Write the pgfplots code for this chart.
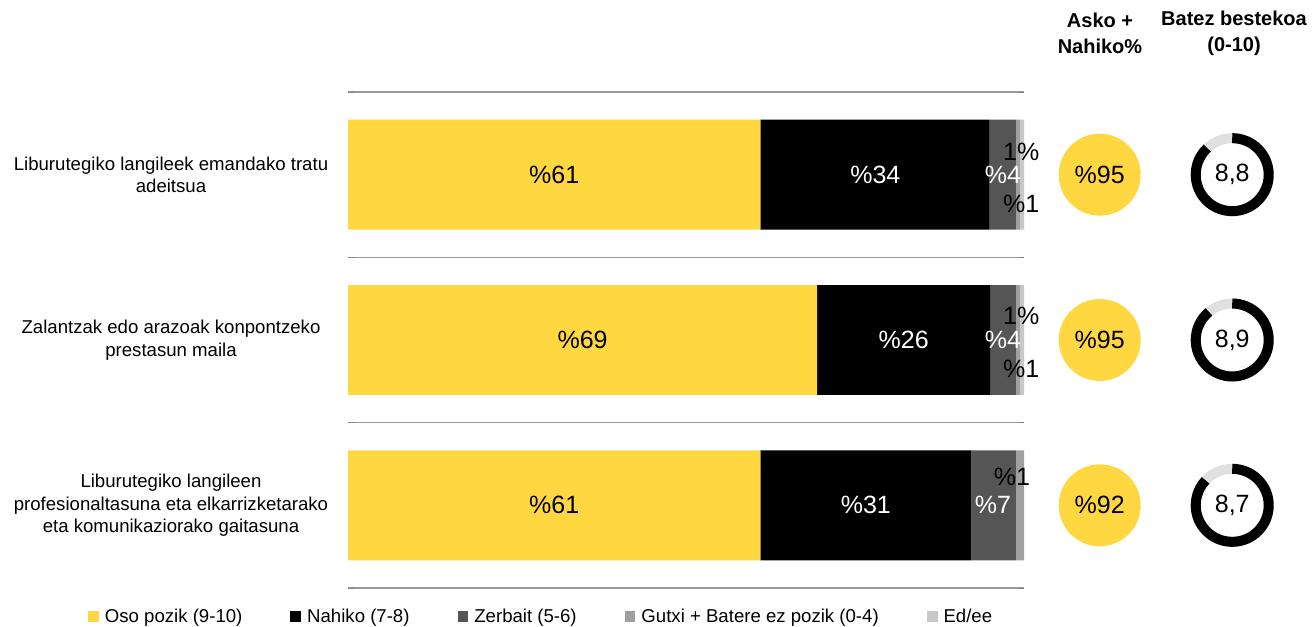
\documentclass[border=0pt]{standalone}
\usepackage{pgfplots}
\usepackage{pgfplotstable}
\pgfplotsset{compat=1.18}
\usepackage{fontspec}
\setmainfont{Liberation Sans}
\definecolor{cyel}{HTML}{FFD740}
\definecolor{cblk}{HTML}{000000}
\definecolor{cdg}{HTML}{555555}
\definecolor{cg}{HTML}{A0A0A0}
\definecolor{clg}{HTML}{C8C8C8}
\definecolor{cring}{HTML}{E0E0E0}
\definecolor{csep}{HTML}{9A9A9A}
\pgfplotstableread{
cat oso nahiko zerbait gutxi ed
0 61.0 31.2 6.6 1.2 0.0
1 69.4 25.6 3.8 0.6 0.6
2 61.0 33.9 3.9 0.6 0.6
}\data
\tikzset{bl/.style={font=\fontsize{12.5}{14}\selectfont, inner sep=0pt}}
\begin{document}
\begin{tikzpicture}
\useasboundingbox (0,0) rectangle (657.5pt,313pt);
\begin{axis}[
  at={(174pt,19pt)}, anchor=south west,
  scale only axis, width=338pt, height=248pt,
  xbar stacked, bar width=0.665,
  xmin=0, xmax=100, ymin=-0.5, ymax=2.5,
  axis line style={draw=none},
  xtick=\empty,
  ytick={0,1,2},
  yticklabels={{Liburutegiko langileen\\profesionaltasuna eta elkarrizketarako\\eta komunikaziorako gaitasuna},
               {Zalantzak edo arazoak konpontzeko\\prestasun maila},
               {Liburutegiko langileek emandako tratu\\adeitsua}},
  yticklabel style={anchor=center, xshift=-88.5pt, align=center, font=\fontsize{9.3}{11.3}\selectfont},
  major tick length=0pt,
  minor ytick={-0.5,0.5,1.5,2.5},
  yminorgrids, minor grid style={csep, line width=0.6pt},
  clip=false,
  legend columns=5,
  legend style={draw=none, fill=none, at={(axis description cs:-0.385,-0.058)}, anchor=west,
    inner sep=0pt, font=\fontsize{9.3}{10}\selectfont,
    /tikz/every even column/.append style={column sep=22pt},
    /tikz/every odd column/.append style={column sep=1pt}},
  legend image code/.code={\fill[#1] (0pt,-2.7pt) rectangle (5.4pt,2.7pt);},
]
\addplot[fill=cyel, draw=none] table[x=oso, y=cat] {\data};
\addplot[fill=cblk, draw=none] table[x=nahiko, y=cat] {\data};
\addplot[fill=cdg, draw=none] table[x=zerbait, y=cat] {\data};
\addplot[fill=cg, draw=none] table[x=gutxi, y=cat] {\data};
\addplot[fill=clg, draw=none] table[x=ed, y=cat] {\data};
\legend{Oso pozik (9-10),Nahiko (7-8),Zerbait (5-6),Gutxi + Batere ez pozik (0-4),Ed/ee}
\coordinate (a1) at (axis cs:30.5,2);
\coordinate (a2) at (axis cs:78,2);
\coordinate (a3) at (axis cs:96.9,2);
\coordinate (a4) at (axis cs:99.6,2);
\coordinate (b1) at (axis cs:34.7,1);
\coordinate (b2) at (axis cs:82.2,1);
\coordinate (b3) at (axis cs:96.9,1);
\coordinate (b4) at (axis cs:99.6,1);
\coordinate (c1) at (axis cs:30.5,0);
\coordinate (c2) at (axis cs:76.6,0);
\coordinate (c3) at (axis cs:95.4,0);
\coordinate (c4) at (axis cs:98.2,0);
\coordinate (p2) at (axis cs:111.2,2);
\coordinate (p1) at (axis cs:111.2,1);
\coordinate (p0) at (axis cs:111.2,0);
\coordinate (d2) at (axis cs:130.8,2);
\coordinate (d1) at (axis cs:130.8,1);
\coordinate (d0) at (axis cs:130.8,0);
\end{axis}
\node[bl] at (a1) {\%61};
\node[bl,white] at (a2) {\%34};
\node[bl,white] at (a3) {\%4};
\node[bl,yshift=11.5pt] at (a4) {1\%};
\node[bl,yshift=-14.5pt] at (a4) {\%1};
\node[bl] at (b1) {\%69};
\node[bl,white] at (b2) {\%26};
\node[bl,white] at (b3) {\%4};
\node[bl,yshift=12pt] at (b4) {1\%};
\node[bl,yshift=-14.5pt] at (b4) {\%1};
\node[bl] at (c1) {\%61};
\node[bl,white] at (c2) {\%31};
\node[bl,white] at (c3) {\%7};
\node[bl,yshift=14pt] at (c4) {\%1};
\fill[cyel] (p2) circle[radius=20.5pt];
\node[bl] at (p2) {\%95};
\fill[cyel] (p1) circle[radius=20.5pt];
\node[bl] at (p1) {\%95};
\fill[cyel] (p0) circle[radius=20.5pt];
\node[bl] at (p0) {\%92};
\draw[cring, line width=5pt] (d2) circle[radius=18.25pt];
\draw[cblk, line width=5pt] ([yshift=18.25pt]d2) arc[start angle=90, end angle=-226.8, radius=18.25pt];
\node[bl] at (d2) {8,8};
\draw[cring, line width=5pt] (d1) circle[radius=18.25pt];
\draw[cblk, line width=5pt] ([yshift=18.25pt]d1) arc[start angle=90, end angle=-230.4, radius=18.25pt];
\node[bl] at (d1) {8,9};
\draw[cring, line width=5pt] (d0) circle[radius=18.25pt];
\draw[cblk, line width=5pt] ([yshift=18.25pt]d0) arc[start angle=90, end angle=-223.2, radius=18.25pt];
\node[bl] at (d0) {8,7};
\node[align=center, font=\bfseries\fontsize{10}{13}\selectfont] at (550pt,296.5pt) {Asko +\\Nahiko\%};
\node[align=center, font=\bfseries\fontsize{10}{13}\selectfont] at (617pt,296.5pt) {Batez bestekoa\\(0-10)};
\end{tikzpicture}
\end{document}
